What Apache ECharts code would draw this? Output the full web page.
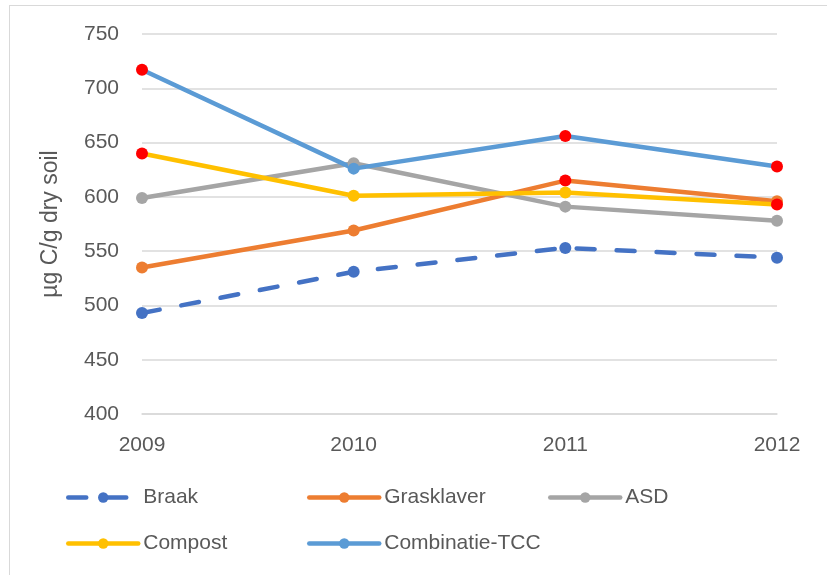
<!DOCTYPE html>
<html>
<head>
<meta charset="utf-8">
<script src="https://cdn.jsdelivr.net/npm/echarts@6/dist/echarts.min.js"></script>
<style>
  html, body { margin: 0; padding: 0; background: #fff; }
  #frame { position: absolute; left: 9px; top: 5px; width: 840px; height: 600px; border: 1px solid #d9d9d9; }
  #chart { position: absolute; left: 0; top: 0; width: 827px; height: 575px; }
</style>
</head>
<body>
<div id="frame"></div>
<div id="chart"></div>
<script>
const years = ['2009', '2010', '2011', '2012']
const yTicks = [400, 450, 500, 550, 600, 650, 700, 750]

const braak = [493, 531, 553, 544]
const grasklaver = [535, 569, 615, 596]
const asd = [599, 631, 591, 578]
const compost = [640, 601, 604, 593]
const combinatie = [717, 626, 656, 628]

// points marked with a red dot in the original
const redGrasklaver = [2]
const redCompost = [0, 3]
const redCombinatie = [0, 2, 3]

const fontFamily = '"Liberation Sans", "DejaVu Sans", sans-serif'
const textColor = '#595959'

const chart = echarts.init(document.getElementById('chart'))

const mkData = (values, reds) =>
  values.map((v, i) => reds.includes(i)
    ? { value: v, itemStyle: { color: '#ff0000' } }
    : v)

const mkSeries = (name, color, values, reds, dashed) => ({
  name,
  type: 'line',
  data: mkData(values, reds),
  symbol: 'circle',
  symbolSize: 12,
  itemStyle: { color },
  lineStyle: {
    color,
    width: 4.5,
    type: dashed ? [18, 22] : 'solid',
    cap: 'round'
  },
  emphasis: { disabled: true },
  animation: false
})

const legendItem = (name, left, top) => ({
  data: [name],
  left,
  top,
  itemWidth: 70,
  itemHeight: 13,
  itemGap: 0,
  padding: 0,
  lineStyle: { width: 4.5, cap: 'round' },
  textStyle: { fontSize: 21, color: textColor, fontFamily },
  selectedMode: false
})

const option = {
  backgroundColor: 'transparent',
  textStyle: { fontFamily },
  grid: { left: 142, right: 50, top: 34, bottom: 161 },
  legend: [
    legendItem('Braak', 66, 487),
    legendItem('Grasklaver', 307, 487),
    legendItem('ASD', 548, 487),
    legendItem('Compost', 66, 533),
    legendItem('Combinatie-TCC', 307, 533)
  ],
  xAxis: {
    type: 'category',
    data: years,
    boundaryGap: false,
    axisLine: { lineStyle: { color: '#d9d9d9', width: 1.5 } },
    axisTick: { show: false },
    axisLabel: { fontSize: 21, color: textColor, margin: 21 }
  },
  yAxis: {
    type: 'value',
    min: yTicks[0],
    max: yTicks[yTicks.length - 1],
    interval: 50,
    name: 'µg C/g dry soil',
    nameLocation: 'middle',
    nameGap: 80,
    nameTextStyle: { fontSize: 23, color: textColor },
    axisLine: { show: false },
    axisTick: { show: false },
    axisLabel: { fontSize: 21, color: textColor, margin: 23 },
    splitLine: { lineStyle: { color: '#d9d9d9', width: 1.5 } }
  },
  series: [
    mkSeries('Braak', '#4472c4', braak, [], true),
    mkSeries('Grasklaver', '#ed7d31', grasklaver, redGrasklaver),
    mkSeries('ASD', '#a5a5a5', asd, []),
    mkSeries('Compost', '#ffc000', compost, redCompost),
    mkSeries('Combinatie-TCC', '#5b9bd5', combinatie, redCombinatie)
  ]
}

chart.setOption(option)
window.addEventListener('resize', () => chart.resize())
</script>
</body>
</html>
